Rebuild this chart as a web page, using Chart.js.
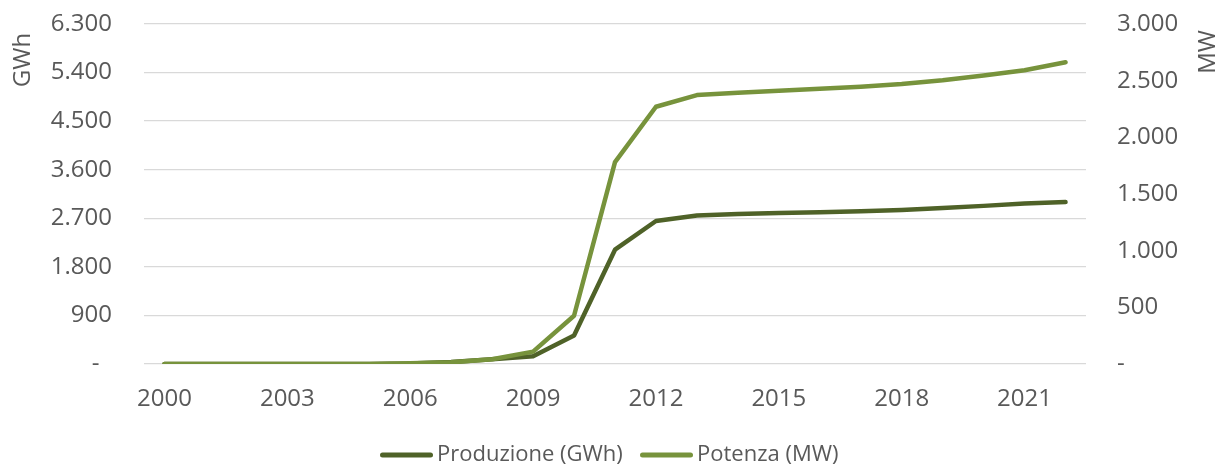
<!DOCTYPE html>
<html lang="it">
<head>
<meta charset="utf-8">
<title>Produzione e potenza</title>
<script src="https://cdn.jsdelivr.net/npm/chart.js@4.4.1/dist/chart.umd.min.js"></script>
<style>
  html, body { margin: 0; padding: 0; background: #ffffff; }
  #wrap { width: 1224px; height: 466px; }
</style>
</head>
<body>
<div id="wrap"><canvas id="chart" width="1224" height="466"></canvas></div>
<script>
// Anni di riferimento
const anni = [2000, 2001, 2002, 2003, 2004, 2005, 2006, 2007, 2008, 2009, 2010, 2011,
              2012, 2013, 2014, 2015, 2016, 2017, 2018, 2019, 2020, 2021, 2022];

// Produzione annua (GWh) - asse sinistro
const produzioneGWh = [0, 0, 0, 0, 0, 2, 10, 35, 90, 145, 527, 2118,
                       2650, 2750, 2780, 2800, 2812, 2830, 2855, 2890, 2930, 2975, 3000];

// Potenza installata (MW) - asse destro
const potenzaMW = [0, 0, 0, 0, 0, 1, 6, 15, 42, 109, 426, 1781,
                   2270, 2373, 2394, 2411, 2429, 2447, 2470, 2503, 2545, 2592, 2663];

// Etichette delle serie
const serieEtichette = ['Produzione (GWh)', 'Potenza (MW)'];

// Tacche degli assi
const tickGWh = { min: 0, max: 6300, step: 900 };
const tickMW = { min: 0, max: 3000, step: 500 };
const annoPasso = 3;

const coloreScuro = '#4F6228';
const coloreChiaro = '#77933C';
const coloreTesto = '#595959';
const FONT = '"Open Sans", "DejaVu Sans", sans-serif';

// Formato numerico italiano: separatore delle migliaia "." e trattino per lo zero
function formatoIt(v) {
  if (v === 0) return '-';
  return String(Math.round(v)).replace(/\B(?=(\d{3})+(?!\d))/g, '.');
}

// Titoli degli assi e legenda disegnati sul canvas
const decorazioni = {
  id: 'decorazioni',
  afterDraw(chart) {
    const ctx = chart.ctx;
    const area = chart.chartArea;
    ctx.save();
    ctx.fillStyle = coloreTesto;
    ctx.font = '24px ' + FONT;
    ctx.textBaseline = 'middle';
    ctx.textAlign = 'center';

    // Titolo asse sinistro
    ctx.save();
    ctx.translate(23, area.top + 36);
    ctx.rotate(-Math.PI / 2);
    ctx.fillText('GWh', 0, 0);
    ctx.restore();

    // Titolo asse destro
    ctx.save();
    ctx.translate(1208, area.top + 28);
    ctx.rotate(-Math.PI / 2);
    ctx.fillText('MW', 0, 0);
    ctx.restore();

    // Legenda in basso
    ctx.font = '22px ' + FONT;
    ctx.textAlign = 'left';
    const lineaLung = 53, spazioTesto = 4;
    const inizi = [380, 640];
    const y = 455;
    chart.data.datasets.forEach((d, i) => {
      const x = inizi[i];
      ctx.strokeStyle = d.borderColor;
      ctx.lineWidth = 5;
      ctx.lineCap = 'round';
      ctx.beginPath();
      ctx.moveTo(x + 2.5, y);
      ctx.lineTo(x + lineaLung - 2.5, y);
      ctx.stroke();
      ctx.fillText(d.label, x + lineaLung + spazioTesto, y);
    });
    ctx.restore();
  }
};

// Nessun margine extra per le etichette sporgenti: l'area del grafico resta fissa
function senzaMargini(scale) {
  scale.paddingTop = 0;
  scale.paddingBottom = 0;
  scale.paddingLeft = 0;
  scale.paddingRight = 0;
}

new Chart(document.getElementById('chart'), {
  type: 'line',
  data: {
    labels: anni,
    datasets: [
      {
        label: serieEtichette[0],
        data: produzioneGWh,
        yAxisID: 'yGWh',
        borderColor: coloreScuro,
        backgroundColor: coloreScuro,
        borderWidth: 4.5,
        borderCapStyle: 'round',
        borderJoinStyle: 'round',
        pointRadius: 0,
        tension: 0,
        order: 2
      },
      {
        label: serieEtichette[1],
        data: potenzaMW,
        yAxisID: 'yMW',
        borderColor: coloreChiaro,
        backgroundColor: coloreChiaro,
        borderWidth: 4.5,
        borderCapStyle: 'round',
        borderJoinStyle: 'round',
        pointRadius: 0,
        tension: 0,
        order: 1
      }
    ]
  },
  options: {
    responsive: false,
    animation: false,
    devicePixelRatio: 1,
    layout: { padding: { top: 24, left: 0, right: 0, bottom: 0 } },
    plugins: {
      legend: { display: false },
      tooltip: { enabled: false }
    },
    scales: {
      x: {
        type: 'category',
        offset: true,
        grid: { display: false, drawTicks: false },
        border: { display: false },
        ticks: {
          color: coloreTesto,
          font: { family: FONT, size: 24 },
          padding: 21,
          maxRotation: 0,
          autoSkip: false,
          callback(value, index) {
            return index % annoPasso === 0 ? String(anni[index]) : null;
          }
        },
        afterFit(scale) { scale.height = 102; senzaMargini(scale); }
      },
      yGWh: {
        position: 'left',
        min: tickGWh.min,
        max: tickGWh.max,
        grid: { color: '#D9D9D9', lineWidth: 1.3, drawTicks: false },
        border: { display: false },
        ticks: {
          stepSize: tickGWh.step,
          color: coloreTesto,
          font: { family: FONT, size: 24 },
          padding: 32,
          callback(v) { return v === 0 ? '-\u00a0\u00a0' : formatoIt(v); }
        },
        afterFit(scale) { scale.width = 144; senzaMargini(scale); }
      },
      yMW: {
        position: 'right',
        min: tickMW.min,
        max: tickMW.max,
        grid: { display: false, drawTicks: false },
        border: { display: false },
        ticks: {
          stepSize: tickMW.step,
          color: coloreTesto,
          font: { family: FONT, size: 24 },
          padding: 31,
          callback(v) { return formatoIt(v); }
        },
        afterFit(scale) { scale.width = 138; senzaMargini(scale); }
      }
    }
  },
  plugins: [decorazioni]
});
</script>
</body>
</html>
